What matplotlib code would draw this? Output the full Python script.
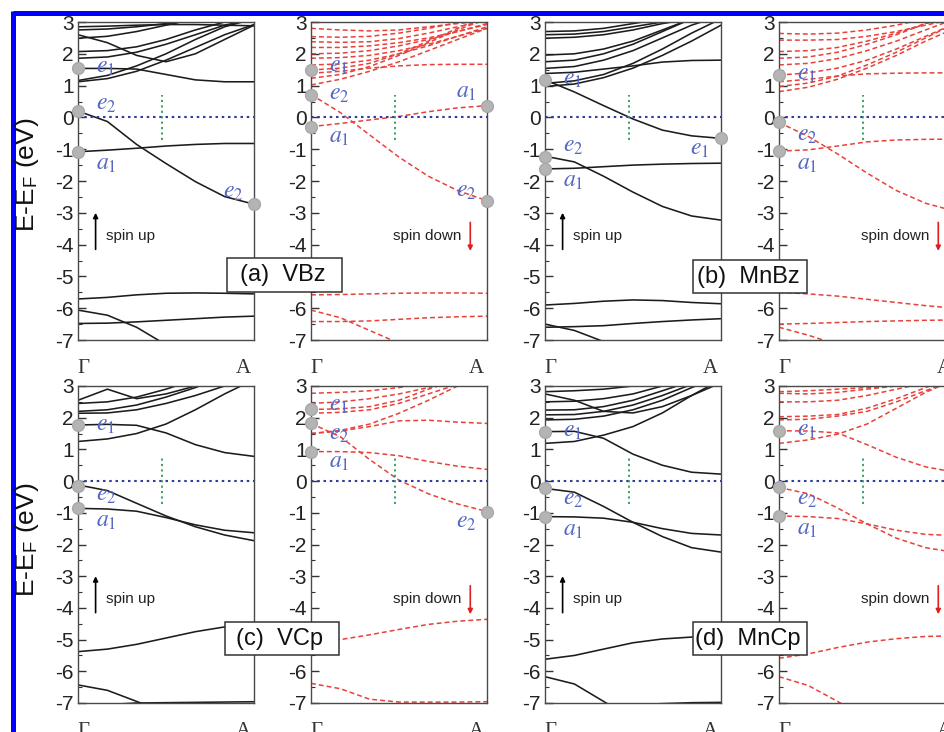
import matplotlib
matplotlib.use("Agg")
import matplotlib.pyplot as plt
from matplotlib.patches import Rectangle
from matplotlib.lines import Line2D
from matplotlib.ticker import MultipleLocator

plt.rcParams['font.family'] = ['Liberation Sans', 'DejaVu Sans']
plt.rcParams['mathtext.fontset'] = 'stix'
plt.rcParams['axes.unicode_minus'] = False

# ---------------- data ----------------
K = [0.0, 0.167, 0.333, 0.5, 0.667, 0.833, 1.0]   # k-path samples from Gamma to A
K_LABELS = ['Γ', 'A']
Y_TICKS = [-7, -6, -5, -4, -3, -2, -1, 0, 1, 2, 3]
PANEL_TITLES = ['(a)  VBz', '(b)  MnBz', '(c)  VCp', '(d)  MnCp']

VBZ_UP = [
    [-1.08, -1.03, -0.97, -0.90, -0.85, -0.82, -0.82],
    [0.20, -0.13, -0.85, -1.45, -2.02, -2.49, -2.73],
    [1.54, 1.54, 1.52, 1.35, 1.18, 1.12, 1.12],
    [1.12, 1.22, 1.45, 1.80, 2.20, 2.60, 2.92],
    [1.16, 1.32, 1.62, 2.00, 2.45, 2.85, 3.10],
    [1.86, 1.90, 2.05, 2.30, 2.60, 2.90, 3.10],
    [2.07, 2.10, 2.22, 2.45, 2.75, 3.00, 3.20],
    [2.60, 2.35, 1.95, 1.75, 2.00, 2.45, 2.90],
    [2.49, 2.55, 2.70, 2.90, 3.10, 3.30, 3.40],
    [2.75, 2.78, 2.85, 2.95, 3.05, 3.15, 3.20],
    [2.85, 2.87, 2.90, 2.92, 2.92, 2.90, 2.88],
    [-5.71, -5.66, -5.58, -5.53, -5.52, -5.53, -5.55],
    [-6.06, -6.22, -6.60, -7.15, -7.70, -8.20, -8.50],
    [-6.48, -6.47, -6.43, -6.38, -6.33, -6.28, -6.25],
]
VBZ_DN = [
    [-0.29, -0.19, -0.08, 0.03, 0.18, 0.30, 0.37],
    [0.72, 0.15, -0.55, -1.25, -1.85, -2.30, -2.62],
    [1.02, 1.20, 1.45, 1.75, 2.10, 2.45, 2.80],
    [1.23, 1.35, 1.60, 1.95, 2.35, 2.75, 3.10],
    [1.39, 1.45, 1.55, 1.62, 1.66, 1.67, 1.67],
    [1.49, 1.55, 1.70, 2.00, 2.40, 2.80, 3.20],
    [1.65, 1.68, 1.80, 2.00, 2.25, 2.55, 2.85],
    [1.86, 1.88, 1.95, 2.10, 2.30, 2.55, 2.80],
    [2.00, 2.02, 2.10, 2.25, 2.45, 2.70, 2.95],
    [2.20, 2.20, 2.25, 2.35, 2.50, 2.70, 2.92],
    [2.38, 2.36, 2.38, 2.48, 2.65, 2.85, 3.05],
    [2.54, 2.52, 2.55, 2.65, 2.80, 2.98, 3.10],
    [2.80, 2.75, 2.72, 2.75, 2.85, 2.95, 3.05],
    [-5.58, -5.57, -5.55, -5.53, -5.52, -5.52, -5.53],
    [-6.06, -6.30, -6.70, -7.10, -7.50, -7.90, -8.20],
    [-6.42, -6.42, -6.40, -6.35, -6.30, -6.27, -6.25],
]
MNBZ_UP = [
    [1.18, 0.80, 0.37, -0.05, -0.40, -0.58, -0.66],
    [-1.22, -1.40, -1.85, -2.35, -2.80, -3.10, -3.23],
    [-1.62, -1.60, -1.55, -1.50, -1.47, -1.45, -1.44],
    [0.97, 1.05, 1.25, 1.55, 1.95, 2.40, 2.90],
    [1.07, 1.15, 1.35, 1.70, 2.15, 2.65, 3.10],
    [1.38, 1.42, 1.52, 1.62, 1.74, 1.79, 1.80],
    [1.54, 1.60, 1.80, 2.10, 2.50, 2.90, 3.20],
    [1.75, 1.80, 2.00, 2.30, 2.70, 3.10, 3.40],
    [1.96, 2.00, 2.15, 2.40, 2.75, 3.10, 3.40],
    [2.49, 2.52, 2.60, 2.75, 2.95, 3.10, 3.30],
    [2.60, 2.62, 2.70, 2.85, 3.00, 3.20, 3.30],
    [2.70, 2.72, 2.80, 2.95, 3.10, 3.20, 3.30],
    [-5.90, -5.85, -5.78, -5.74, -5.76, -5.82, -5.86],
    [-6.50, -6.70, -7.05, -7.40, -7.80, -8.10, -8.40],
    [-6.60, -6.58, -6.55, -6.48, -6.42, -6.37, -6.33],
]
MNBZ_DN = [
    [-0.16, -0.60, -1.15, -1.75, -2.30, -2.70, -2.95],
    [-1.06, -1.02, -0.90, -0.77, -0.71, -0.69, -0.68],
    [0.81, 0.95, 1.20, 1.55, 1.95, 2.40, 2.80],
    [0.97, 1.08, 1.30, 1.65, 2.05, 2.50, 2.95],
    [1.12, 1.20, 1.30, 1.37, 1.39, 1.40, 1.40],
    [1.33, 1.40, 1.55, 1.80, 2.15, 2.55, 2.95],
    [1.65, 1.70, 1.85, 2.10, 2.40, 2.75, 3.10],
    [1.86, 1.90, 2.05, 2.30, 2.60, 2.95, 3.30],
    [2.07, 2.10, 2.20, 2.40, 2.65, 2.95, 3.20],
    [2.43, 2.43, 2.45, 2.55, 2.70, 2.90, 3.10],
    [2.64, 2.62, 2.65, 2.75, 2.90, 3.10, 3.30],
    [-5.50, -5.55, -5.62, -5.72, -5.82, -5.92, -6.00],
    [-6.50, -6.48, -6.45, -6.42, -6.40, -6.38, -6.37],
    [-6.60, -6.85, -7.15, -7.50, -7.80, -8.10, -8.40],
]
VCP_UP = [
    [1.77, 1.79, 1.76, 1.52, 1.15, 0.90, 0.78],
    [1.25, 1.33, 1.50, 1.80, 2.25, 2.75, 3.20],
    [-0.12, -0.30, -0.70, -1.10, -1.44, -1.70, -1.88],
    [-0.86, -0.88, -0.95, -1.15, -1.38, -1.55, -1.63],
    [2.14, 2.15, 2.25, 2.45, 2.70, 3.00, 3.30],
    [2.20, 2.25, 2.40, 2.65, 2.95, 3.30, 3.50],
    [2.45, 2.50, 2.65, 2.90, 3.20, 3.50, 3.70],
    [2.55, 2.90, 2.60, 2.75, 3.00, 3.30, 3.50],
    [-5.38, -5.30, -5.15, -4.95, -4.75, -4.60, -4.52],
    [-6.43, -6.60, -6.95, -7.30, -7.60, -7.90, -8.20],
    [-7.10, -7.05, -7.00, -6.99, -6.98, -6.97, -6.96],
]
VCP_DN = [
    [0.93, 0.93, 0.90, 0.80, 0.62, 0.47, 0.37],
    [1.82, 1.40, 0.68, 0.03, -0.40, -0.72, -0.96],
    [1.50, 1.58, 1.72, 1.90, 1.92, 1.86, 1.82],
    [1.50, 1.60, 1.80, 2.14, 2.55, 3.00, 3.40],
    [2.14, 2.17, 2.25, 2.45, 2.75, 3.05, 3.30],
    [2.26, 2.28, 2.35, 2.55, 2.90, 3.20, 3.50],
    [2.45, 2.50, 2.60, 2.75, 2.95, 3.20, 3.40],
    [2.77, 2.80, 2.85, 2.95, 3.10, 3.20, 3.30],
    [-5.07, -5.00, -4.85, -4.68, -4.52, -4.42, -4.36],
    [-6.38, -6.55, -6.88, -6.97, -6.97, -6.97, -6.96],
]
MNCP_UP = [
    [1.56, 1.57, 1.35, 0.85, 0.50, 0.28, 0.22],
    [1.19, 1.25, 1.45, 1.72, 2.15, 2.70, 3.20],
    [-0.23, -0.35, -0.80, -1.30, -1.75, -2.10, -2.24],
    [-1.12, -1.13, -1.17, -1.30, -1.50, -1.65, -1.70],
    [1.93, 1.95, 2.05, 2.25, 2.55, 2.95, 3.30],
    [2.09, 2.10, 2.20, 2.40, 2.70, 3.05, 3.40],
    [2.24, 2.25, 2.35, 2.55, 2.85, 3.15, 3.40],
    [2.50, 2.52, 2.60, 2.75, 3.00, 3.20, 3.40],
    [2.75, 2.55, 2.20, 2.15, 2.35, 2.70, 3.10],
    [2.82, 2.85, 2.90, 3.00, 3.10, 3.20, 3.30],
    [-5.62, -5.50, -5.30, -5.10, -4.98, -4.92, -4.90],
    [-6.17, -6.40, -6.95, -7.50, -8.00, -8.40, -8.70],
    [-7.20, -7.15, -7.10, -7.05, -7.02, -6.99, -6.98],
]
MNCP_DN = [
    [1.59, 1.58, 1.52, 1.15, 0.75, 0.45, 0.28],
    [1.19, 1.30, 1.48, 1.80, 2.30, 2.80, 3.20],
    [-0.20, -0.40, -0.85, -1.35, -1.80, -2.10, -2.25],
    [-1.10, -1.12, -1.18, -1.35, -1.55, -1.68, -1.72],
    [1.93, 1.95, 2.05, 2.20, 2.50, 2.85, 3.20],
    [2.03, 2.05, 2.10, 2.30, 2.60, 2.95, 3.30],
    [2.50, 2.50, 2.55, 2.70, 2.90, 3.10, 3.30],
    [2.77, 2.75, 2.80, 2.90, 3.00, 3.10, 3.20],
    [2.82, 2.85, 2.90, 2.95, 3.00, 3.05, 3.10],
    [-5.59, -5.45, -5.25, -5.08, -4.97, -4.90, -4.88],
    [-6.17, -6.45, -6.95, -7.50, -8.00, -8.40, -8.70],
]

# symmetry-labelled states: (k, E, label, label_k, label_E)
VBZ_UP_PTS = [(0, 1.54, 'e_1', 0.10, 1.58), (0, 0.20, 'e_2', 0.10, 0.42),
              (0, -1.08, 'a_1', 0.10, -1.45), (1, -2.73, 'e_2', 0.88, -2.35)]
VBZ_DN_PTS = [(0, 1.49, 'e_1', 0.10, 1.62), (0, 0.72, 'e_2', 0.10, 0.75),
              (0, -0.29, 'a_1', 0.10, -0.62), (1, 0.37, 'a_1', 0.88, 0.80),
              (1, -2.62, 'e_2', 0.88, -2.30)]
MNBZ_UP_PTS = [(0, 1.18, 'e_1', 0.10, 1.22), (0, -1.24, 'e_2', 0.10, -0.90),
               (0, -1.62, 'a_1', 0.10, -2.00), (1, -0.66, 'e_1', 0.88, -1.00)]
MNBZ_DN_PTS = [(0, 1.33, 'e_1', 0.10, 1.38), (0, -0.16, 'e_2', 0.10, -0.55),
               (0, -1.06, 'a_1', 0.10, -1.48)]
VCP_UP_PTS = [(0, 1.77, 'e_1', 0.10, 1.78), (0, -0.15, 'e_2', 0.10, -0.45),
              (0, -0.86, 'a_1', 0.10, -1.25)]
VCP_DN_PTS = [(0, 2.26, 'e_1', 0.10, 2.40), (0, 1.82, 'e_2', 0.10, 1.50),
              (0, 0.93, 'a_1', 0.10, 0.60), (1, -0.96, 'e_2', 0.88, -1.28)]
MNCP_UP_PTS = [(0, 1.56, 'e_1', 0.10, 1.58), (0, -0.23, 'e_2', 0.10, -0.55),
               (0, -1.12, 'a_1', 0.10, -1.55)]
MNCP_DN_PTS = [(0, 1.59, 'e_1', 0.10, 1.62), (0, -0.20, 'e_2', 0.10, -0.55),
               (0, -1.10, 'a_1', 0.10, -1.50)]

# ---------------- layout ----------------
W, H = 944, 732
fig = plt.figure(figsize=(W / 100, H / 100), dpi=100)
fig.patch.set_facecolor('white')

COL_LEFT = [78, 311, 545, 779]
ROW_TOP = [22, 386]
ROW_H = [318, 317]
PW = 176

BLACK = '#1c1c1c'
RED = '#e8413a'
LABEL_BLUE = '#5466c4'

panels = [
    (0, 0, VBZ_UP, VBZ_UP_PTS, 'up'), (0, 1, VBZ_DN, VBZ_DN_PTS, 'dn'),
    (0, 2, MNBZ_UP, MNBZ_UP_PTS, 'up'), (0, 3, MNBZ_DN, MNBZ_DN_PTS, 'dn'),
    (1, 0, VCP_UP, VCP_UP_PTS, 'up'), (1, 1, VCP_DN, VCP_DN_PTS, 'dn'),
    (1, 2, MNCP_UP, MNCP_UP_PTS, 'up'), (1, 3, MNCP_DN, MNCP_DN_PTS, 'dn'),
]

for row, col, bands, pts, spin in panels:
    l = COL_LEFT[col]
    t = ROW_TOP[row]
    h = ROW_H[row]
    ax = fig.add_axes([l / W, 1 - (t + h) / H, PW / W, h / H])
    ax.set_xlim(0, 1)
    ax.set_ylim(-7, 3)
    for b in bands:
        if spin == 'up':
            ax.plot(K, b, color=BLACK, lw=1.15, solid_joinstyle='round')
        else:
            ax.plot(K, b, color=RED, lw=1.1, dashes=(3.2, 2.0))
    ax.axhline(0, color='#2f3d9e', lw=1.5, ls=(0, (1.2, 1.8)), zorder=3)
    ax.plot([0.48, 0.48], [-0.72, 0.72], color='#2e9a5c', lw=1.3,
            ls=(0, (1.2, 1.8)), zorder=3)
    for (k, e, lab, tk, te) in pts:
        ax.plot([k], [e], 'o', ms=8.5, color='#b4b4b4', mec='#a8a8a8',
                clip_on=False, zorder=6)
        ax.text(tk, te, '$' + lab + '$', color=LABEL_BLUE, fontsize=17,
                ha='center' if k == 1 else 'left', va='center', zorder=7)
    if spin == 'up':
        ax.annotate('', xy=(0.10, -3.0), xytext=(0.10, -4.15),
                    arrowprops=dict(arrowstyle='-|>', color='k', lw=1.2,
                                    mutation_scale=7, shrinkA=0, shrinkB=0))
        ax.text(0.16, -3.72, 'spin up', fontsize=11, va='center', color='#222')
    else:
        ax.annotate('', xy=(0.905, -4.2), xytext=(0.905, -3.3),
                    arrowprops=dict(arrowstyle='-|>', color='#e02020', lw=1.2,
                                    mutation_scale=7, shrinkA=0, shrinkB=0))
        ax.text(0.855, -3.72, 'spin down', fontsize=11, va='center',
                ha='right', color='#222')
    ax.set_yticks(Y_TICKS)
    ax.yaxis.set_minor_locator(MultipleLocator(0.5))
    ax.tick_params(axis='y', which='major', direction='in', length=6,
                   width=1, labelsize=15, pad=3, colors='#333333',
                   labelcolor='#222222')
    ax.tick_params(axis='y', which='minor', direction='in', length=3,
                   width=0.8, colors='#333333')
    ax.set_xticks([0.03, 0.94])
    ax.set_xticklabels(K_LABELS, fontfamily='Liberation Serif', fontsize=15,
                       color='#333333')
    ax.tick_params(axis='x', length=0, pad=14)
    for s in ax.spines.values():
        s.set_color('#4a4a4a')
        s.set_linewidth(1.0)

# panel title boxes (pixel boxes: x0, x1, y0, y1)
BOXES = [(227, 342, 258, 292), (693, 807, 260, 293),
         (225, 339, 622, 655), (693, 807, 622, 655)]
for (x0, x1, y0, y1), title in zip(BOXES, PANEL_TITLES):
    fig.add_artist(Rectangle((x0 / W, 1 - y1 / H), (x1 - x0) / W, (y1 - y0) / H,
                             transform=fig.transFigure, fc='white',
                             ec='#333333', lw=1.1, zorder=10))
    fig.text((x0 + x1) / 2 / W - 2 / W, 1 - (y0 + y1) / 2 / H, title,
             ha='center', va='center', fontsize=17, color='#111111', zorder=11)

# y axis labels
for yc in (175, 540):
    fig.text(27 / W, 1 - yc / H, r'E-E$_\mathregular{F}$ (eV)', rotation=90,
             ha='center', va='center', fontsize=19, color='#111111')

# blue frame (cropped on the right and bottom)
fig.add_artist(Line2D([12.5 / W, 1.02], [1 - 12.5 / H, 1 - 12.5 / H],
                      transform=fig.transFigure, color='#0000ff', lw=3.6,
                      solid_capstyle='butt'))
fig.add_artist(Line2D([12.5 / W, 12.5 / W], [1 - 10.5 / H, -0.02],
                      transform=fig.transFigure, color='#0000ff', lw=3.6,
                      solid_capstyle='butt'))

fig.savefig('out.png', dpi=100)
